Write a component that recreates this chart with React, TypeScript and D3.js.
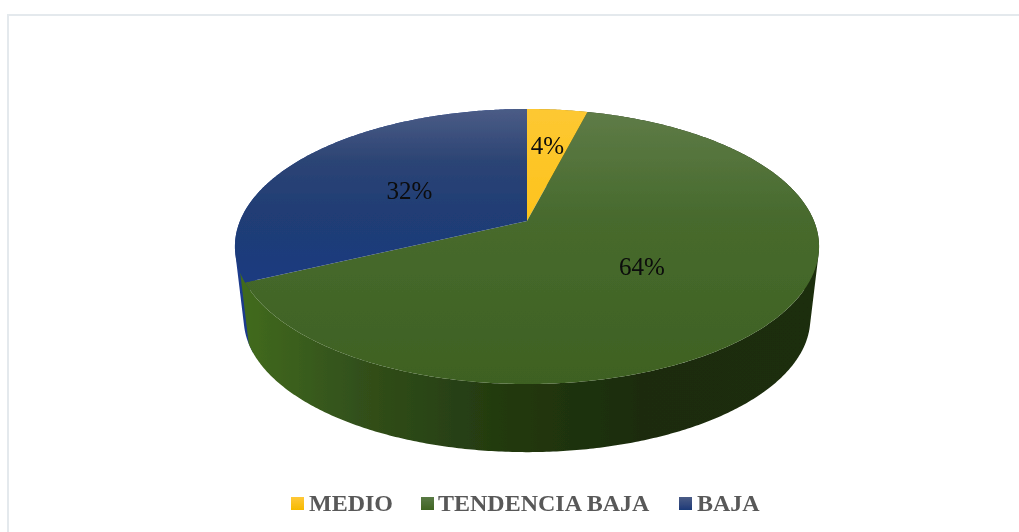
import React from "react";
import * as d3 from "d3";

const categories = ["MEDIO", "TENDENCIA BAJA", "BAJA"];
const values = [4, 64, 32];
const valueLabels = ["4%", "64%", "32%"];

const W = 1019;
const H = 532;
const font = "'Liberation Serif', 'Times New Roman', serif";

// perspective of the pie disc
const APEX_X = 527;
const APEX_Y = 221;
const SCALE_X = 287;
const SCALE_Y = 132.8;
const TILT = 0.1854;
const BASE_SCALE = 0.97;
const BASE_APEX_Y = 294;

type Pt = [number, number];
const project = (angle: number, r = 1, base = false): Pt => {
  const X = r * Math.sin(angle);
  const Y = r * Math.cos(angle);
  const w = 1 + TILT * Y;
  const s = base ? BASE_SCALE : 1;
  return [
    APEX_X + (s * SCALE_X * X) / w,
    (base ? BASE_APEX_Y : APEX_Y) - (s * SCALE_Y * Y) / w,
  ];
};

const line = d3.line<Pt>();
const arcs = d3.pie<number>().sort(null).startAngle(0).endAngle(2 * Math.PI)(values);

const samples = (a0: number, a1: number): number[] => {
  const n = Math.max(2, Math.ceil((a1 - a0) / 0.01));
  return d3.range(n + 1).map((i) => a0 + ((a1 - a0) * i) / n);
};

const topPath = (a0: number, a1: number) =>
  line([[APEX_X, APEX_Y], ...samples(a0, a1).map((a) => project(a))])! + "Z";

// every quad is passed through a hull so that all share one winding and never cancel
const sidePath = (a0: number, a1: number) =>
  d3
    .pairs(samples(a0, a1))
    .map(([p, q]) => {
      const hull = d3.polygonHull([
        project(p),
        project(q),
        project(q, 1, true),
        project(p, 1, true),
      ]);
      return hull ? line(hull as Pt[])! + "Z" : "";
    })
    .join("");

const topFills = ["url(#topY)", "url(#topG)", "url(#topB)"];
const sideFills = ["#9a7a10", "url(#sideG)", "#1c3a8c"];
const swatchFills = ["url(#swY)", "url(#swG)", "url(#swB)"];
const sideOverlap = [0, 0.07, 0];
const labelRadius = [0.636, 0.49, 0.51];
const labelDy = [8, 10, 13];
const legendSwatchX = [291, 421, 679];
const legendTextX = [309, 438, 697];

export default function App() {
  return (
    <svg
      width={W}
      height={H}
      viewBox={`0 0 ${W} ${H}`}
      style={{ position: "absolute", left: 0, top: 0, background: "#fff" }}
    >
      <defs>
        <linearGradient id="topG" gradientUnits="userSpaceOnUse" x1="0" x2="0" y1="109" y2="384">
          <stop offset="0" stopColor="#5f7c48" />
          <stop offset="0.4" stopColor="#476a2d" />
          <stop offset="1" stopColor="#3e6122" />
        </linearGradient>
        <linearGradient id="topB" gradientUnits="userSpaceOnUse" x1="0" x2="0" y1="109" y2="282">
          <stop offset="0" stopColor="#4b5c86" />
          <stop offset="0.3" stopColor="#2c4474" />
          <stop offset="0.6" stopColor="#203d74" />
          <stop offset="1" stopColor="#1d3a80" />
        </linearGradient>
        <linearGradient id="topY" gradientUnits="userSpaceOnUse" x1="0" x2="0" y1="109" y2="221">
          <stop offset="0" stopColor="#fdc832" />
          <stop offset="1" stopColor="#fdc31c" />
        </linearGradient>
        <linearGradient id="sideG" gradientUnits="userSpaceOnUse" x1="245" x2="810" y1="0" y2="0">
          <stop offset="0" stopColor="#416a1a" />
          <stop offset="0.2" stopColor="#32501a" />
          <stop offset="0.45" stopColor="#233a10" />
          <stop offset="0.7" stopColor="#1b2c0c" />
          <stop offset="1" stopColor="#1c2d0c" />
        </linearGradient>
        <linearGradient id="swY" x1="0" x2="0" y1="0" y2="1">
          <stop offset="0" stopColor="#ffc838" />
          <stop offset="1" stopColor="#f6ba00" />
        </linearGradient>
        <linearGradient id="swG" x1="0" x2="0" y1="0" y2="1">
          <stop offset="0" stopColor="#5a7a45" />
          <stop offset="1" stopColor="#3f6522" />
        </linearGradient>
        <linearGradient id="swB" x1="0" x2="0" y1="0" y2="1">
          <stop offset="0" stopColor="#4b5c86" />
          <stop offset="1" stopColor="#1d3a78" />
        </linearGradient>
        <filter id="soft" x="-5%" y="-5%" width="110%" height="110%">
          <feGaussianBlur stdDeviation="0.6" />
        </filter>
      </defs>

      <rect x={7} y={14} width={W} height={2} fill="#e4e9ed" />
      <rect x={7} y={14} width={2} height={H} fill="#e4e9ed" />

      <g filter="url(#soft)">
        {[...arcs].reverse().map((a) => (
          <path
            key={a.index}
            d={sidePath(a.startAngle, a.endAngle + sideOverlap[a.index])}
            fill={sideFills[a.index]}
          />
        ))}
        {arcs.map((a) => (
          <path key={a.index} d={topPath(a.startAngle, a.endAngle)} fill={topFills[a.index]} />
        ))}
        {arcs.map((a) => {
          const [x, y] = project((a.startAngle + a.endAngle) / 2, labelRadius[a.index]);
          return (
            <text
              key={a.index}
              x={x}
              y={y + labelDy[a.index]}
              textAnchor="middle"
              fontFamily={font}
              fontSize={25}
              fill="#0a0a0a"
            >
              {valueLabels[a.index]}
            </text>
          );
        })}
      </g>

      <g filter="url(#soft)">
        {categories.map((c, i) => (
          <g key={c}>
            <rect x={legendSwatchX[i]} y={497} width={13} height={13} fill={swatchFills[i]} />
            <text
              x={legendTextX[i]}
              y={511}
              fontFamily={font}
              fontWeight="bold"
              fontSize={24}
              fill="#595959"
            >
              {c}
            </text>
          </g>
        ))}
      </g>
    </svg>
  );
}
